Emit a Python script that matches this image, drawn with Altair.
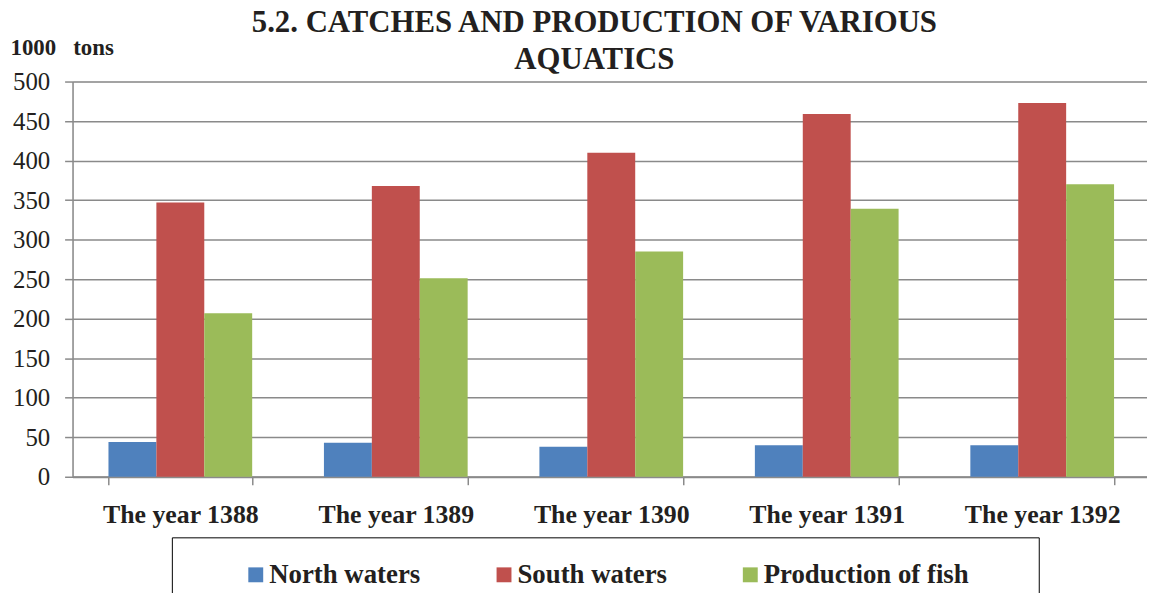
import altair as alt
import pandas as pd

years = ["The year 1388", "The year 1389", "The year 1390", "The year 1391", "The year 1392"]
series = ["North waters", "South waters", "Production of fish"]
north = [44, 43, 38, 40, 40]
south = [347, 368, 410, 459, 473]
fish = [207, 251, 285, 339, 370]
colors = ["#4F81BD", "#C0504D", "#9BBB59"]
y_ticks = [0, 50, 100, 150, 200, 250, 300, 350, 400, 450, 500]

rows = []
for s, vals in zip(series, [north, south, fish]):
    for y, v in zip(years, vals):
        rows.append({"year": y, "series": s, "value": v})
df = pd.DataFrame(rows)

FONT = "Liberation Serif"
TXT = "#231f20"
GRAY = "#8a8a8a"

chart = alt.Chart(df).mark_bar().encode(
    x=alt.X("year:N", sort=years,
            scale=alt.Scale(paddingInner=0.333, paddingOuter=0.1667),
            axis=alt.Axis(title=None, labelAngle=0, tickBand="extent",
                          labelFont=FONT, labelFontSize=26, labelFontWeight="bold",
                          labelColor=TXT, labelPadding=17, tickSize=8,
                          tickColor=GRAY, tickWidth=1.5, domainColor=GRAY,
                          domainWidth=2, grid=False)),
    xOffset=alt.XOffset("series:N", sort=series,
                        scale=alt.Scale(paddingInner=0, paddingOuter=0)),
    y=alt.Y("value:Q", scale=alt.Scale(domain=[0, 500], nice=False),
            axis=alt.Axis(values=y_ticks, title="1000\u00a0\u00a0\u00a0tons",
                          titleAngle=0, titleAlign="left", titleBaseline="alphabetic",
                          titleX=-63, titleY=-27, titleFont=FONT, titleFontSize=23,
                          titleFontWeight="bold", titleColor=TXT,
                          labelFont=FONT, labelFontSize=25, labelColor=TXT,
                          labelPadding=15, tickSize=8, tickColor=GRAY, tickWidth=1.5,
                          domainColor=GRAY, domainWidth=1.5,
                          grid=True, gridColor=GRAY, gridWidth=1.5)),
    color=alt.Color("series:N", sort=series,
                    scale=alt.Scale(domain=series, range=colors),
                    legend=alt.Legend(title=" ", titleOrient="right", titlePadding=46,
                                      orient="none", legendX=100, legendY=459,
                                      direction="horizontal", columns=3,
                                      symbolType="square", symbolSize=225,
                                      symbolStrokeWidth=0, symbolOffset=47,
                                      columnPadding=23, labelOffset=0,
                                      labelFont=FONT, labelFontSize=27,
                                      labelFontWeight="bold", labelColor=TXT,
                                      labelLimit=400,
                                      strokeColor="black", padding=24,
                                      fillColor="white")),
).properties(
    width=1085,
    height=398,
    title=alt.TitleParams(
        text=["5.2. CATCHES AND PRODUCTION OF VARIOUS", "AQUATICS"],
        font=FONT, fontSize=31, fontWeight="bold", color=TXT,
        anchor="middle", frame="group", lineHeight=37, dx=-17, offset=-39),
    autosize=alt.AutoSizeParams(type="none"),
    padding={"left": 65, "top": 72, "right": -3, "bottom": 115},
).configure_view(stroke=None).configure(background="white")

chart.save("out.html", embed_options={"renderer": "svg", "actions": False})
